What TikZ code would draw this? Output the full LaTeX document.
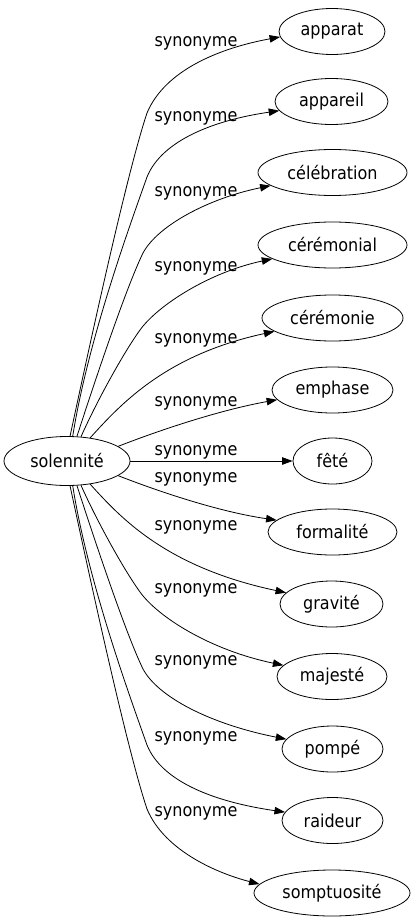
\documentclass[tikz,border=0pt]{standalone}
\usepackage{fontspec}
\setmainfont{DejaVu Sans Condensed}
\usetikzlibrary{arrows.meta,shapes.geometric}
\begin{document}
\begin{tikzpicture}[x=1pt,y=-1pt,
  every node/.style={font=\fontsize{17.8}{20}\selectfont},
  word/.style={draw, ellipse, line width=0.8pt, minimum height=46pt, inner sep=0pt},
  lab/.style={inner sep=0pt},
  syn/.style={draw, line width=0.8pt, -{Triangle[length=10.5pt,width=7.5pt]}}
]
\useasboundingbox (0,0) rectangle (415,923);
\node[word, minimum width=126pt, minimum height=49pt] (s) at (67,461) {solennité};
\node[word, minimum width=106pt] (t1) at (332,31.5) {apparat};
\node[word, minimum width=113pt] (t2) at (331.5,101.5) {appareil};
\node[word, minimum width=149pt] (t3) at (332.5,172.5) {célébration};
\node[word, minimum width=149pt] (t4) at (332.5,245) {cérémonial};
\node[word, minimum width=141pt] (t5) at (332.5,318) {cérémonie};
\node[word, minimum width=121pt] (t6) at (332.5,390) {emphase};
\node[word, minimum width=79pt] (t7) at (332.5,461) {fêté};
\node[word, minimum width=129pt] (t8) at (332.5,532) {formalité};
\node[word, minimum width=103pt] (t9) at (331.5,604) {gravité};
\node[word, minimum width=110pt] (t10) at (332,676.5) {majesté};
\node[word, minimum width=101pt] (t11) at (332.5,749) {pompé};
\node[word, minimum width=101pt] (t12) at (332.5,820.5) {raideur};
\node[word, minimum width=156pt] (t13) at (332,893) {somptuosité};

\node[lab] (l1) at (196,43) {synonyme};
\node[lab] (l2) at (196,118) {synonyme};
\node[lab] (l3) at (196,193) {synonyme};
\node[lab] (l4) at (196,268) {synonyme};
\node[lab] (l5) at (196,340) {synonyme};
\node[lab] (l6) at (196,403) {synonyme};
\node[lab] (l7) at (196,452) {synonyme};
\node[lab] (l8) at (196,479) {synonyme};
\node[lab] (l9) at (196,527) {synonyme};
\node[lab] (l10) at (196,590) {synonyme};
\node[lab] (l11) at (196,662) {synonyme};
\node[lab] (l12) at (196,738) {synonyme};
\node[lab] (l13) at (196,813) {synonyme};

\draw[syn] (s.83) .. controls (95,320) and (128,170) .. (147,113) .. controls (165,70) and (220,48) .. (t1.186);
\draw[syn] (s.77) .. controls (88,340) and (130,225) .. (147,177) .. controls (162,140) and (215,120) .. (t2.190);
\draw[syn] (s.68) .. controls (92,390) and (125,290) .. (143,253) .. controls (158,225) and (210,198) .. (t3.192);
\draw[syn] (s.60) .. controls (95,405) and (122,355) .. (140,330) .. controls (158,305) and (210,272) .. (t4.193);
\draw[syn] (s.45) .. controls (120,405) and (165,355) .. (t5.193);
\draw[syn] (s.16) .. controls (160,430) and (220,410) .. (t6.190);
\draw[syn] (s.east) -- (t7.west);
\draw[syn] (s.-16) .. controls (160,492) and (220,512) .. (t8.168);
\draw[syn] (s.-45) .. controls (120,517) and (165,567) .. (t9.166);
\draw[syn] (s.-60) .. controls (95,517) and (122,567) .. (140,592) .. controls (158,617) and (210,650) .. (t10.167);
\draw[syn] (s.-68) .. controls (92,532) and (125,632) .. (143,669) .. controls (158,697) and (210,724) .. (t11.168);
\draw[syn] (s.-77) .. controls (88,582) and (130,697) .. (147,745) .. controls (162,782) and (215,802) .. (t12.170);
\draw[syn] (s.-83) .. controls (95,602) and (128,752) .. (147,809) .. controls (165,852) and (220,874) .. (t13.173);
\end{tikzpicture}
\end{document}
